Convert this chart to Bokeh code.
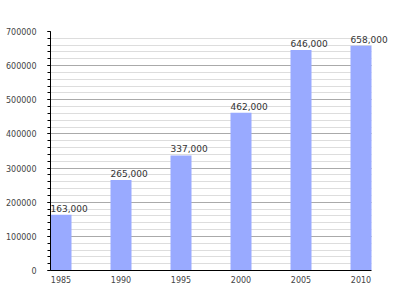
from bokeh.plotting import figure
from bokeh.embed import file_html
from bokeh.resources import INLINE
from bokeh.models import SingleIntervalTicker, FixedTicker, PrintfTickFormatter, ColumnDataSource, Range1d
from bokeh.core.properties import value

years = [1985, 1990, 1995, 2000, 2005, 2010]
population = [163000, 265000, 337000, 462000, 646000, 658000]
labels = ["{:,}".format(v) for v in population]

src = ColumnDataSource(dict(x=years, top=population, label=labels))

x_lo = years[0] - 0.875
x_hi = years[-1] + 0.875
# frame extends past the last bar so the last value label is not clipped
p = figure(width=400, height=300, output_backend="svg", toolbar_location=None,
           x_range=Range1d(x_lo, x_lo + 345 / 12), y_range=Range1d(0, 700000),
           min_border_left=50, min_border_right=5, min_border_top=31, min_border_bottom=30)
p.outline_line_color = None
p.background_fill_color = "white"

p.vbar(x="x", top="top", bottom=0, width=1.75, source=src, fill_color="#99aaff", line_color=None)
p.text(x="x", y="top", text="label", source=src, x_offset=-10.5, y_offset=-3,
       text_align="left", text_baseline="bottom", text_font=value("DejaVu Sans"),
       text_font_size="9px", text_color="#333333")

yt = SingleIntervalTicker(interval=100000, num_minor_ticks=5)
p.yaxis.ticker = yt
p.ygrid.ticker = yt
p.ygrid.cross_bounds = (x_lo, x_hi)
p.yaxis.formatter = PrintfTickFormatter(format="%d")
p.ygrid.grid_line_color = "#aaaaaa"
p.ygrid.minor_grid_line_color = "#dddddd"
p.xgrid.grid_line_color = None
p.grid.level = "underlay"

p.xaxis.ticker = FixedTicker(ticks=years)
p.xaxis.bounds = (x_lo, x_hi)
p.xaxis.major_tick_line_color = None
p.xaxis.minor_tick_line_color = None
p.xaxis.major_tick_out = 0
p.xaxis.major_tick_in = 0
p.xaxis.minor_tick_out = 0
p.xaxis.minor_tick_in = 0

for ax in (p.xaxis, p.yaxis):
    ax.axis_line_color = "black"
    ax.axis_line_width = 1
    ax.major_label_text_font = "DejaVu Sans"
    ax.major_label_text_font_size = "8px"
    ax.major_label_text_color = "#444444"

p.yaxis.major_tick_in = 0
p.yaxis.major_tick_out = 3
p.yaxis.minor_tick_in = 0
p.yaxis.minor_tick_out = 3
p.yaxis.major_tick_line_color = "black"
p.yaxis.minor_tick_line_color = "black"
p.yaxis.major_label_standoff = 11
p.xaxis.major_label_standoff = 5

open("out.html", "w").write(file_html(p, INLINE))
